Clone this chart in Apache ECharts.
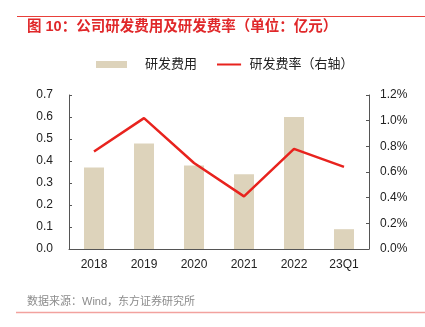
<!DOCTYPE html>
<html><head><meta charset="utf-8">
<script src="https://cdn.jsdelivr.net/npm/echarts@6/dist/echarts.min.js"></script>
<style>html,body{margin:0;padding:0;background:#fff}#c{width:425px;height:327px}</style>
</head><body><div id="c"></div>
<script>
const categories = ['2018','2019','2020','2021','2022','23Q1'];
const rdExpense = [0.37, 0.48, 0.38, 0.34, 0.60, 0.09];
const rdRate = [0.76, 1.02, 0.67, 0.41, 0.78, 0.64];
const leftTicks = [0, 0.1, 0.2, 0.3, 0.4, 0.5, 0.6, 0.7];
const rightTicks = [0, 0.2, 0.4, 0.6, 0.8, 1.0, 1.2];

const chart = echarts.init(document.getElementById('c'));
const FONT = '"Liberation Sans", "Noto Sans CJK SC", sans-serif';
chart.setOption({
  animation: false,
  textStyle: {fontFamily: FONT},
  graphic: [
    {type:'line', shape:{x1:17,y1:16.5,x2:425,y2:16.5}, style:{stroke:'#e8403a', lineWidth:1}},
    {type:'text', left:27, top:20, style:{text:'图 10：公司研发费用及研发费率（单位：亿元）', fill:'#e0282a', font:'bold 14.5px ' + FONT}},
    {type:'text', left:27, top:296, style:{text:'数据来源：Wind，东方证券研究所', fill:'#8c8c8c', font:'11px ' + FONT}},
    {type:'line', shape:{x1:16,y1:312.5,x2:425,y2:312.5}, style:{stroke:'#f2a29e', lineWidth:1.5}}
  ],
  legend: {
    top: 58, left: 96, padding: 0, itemGap: 20, itemWidth: 31, itemHeight: 7,
    textStyle: {fontSize: 13, color:'#222', fontFamily: FONT},
    data: [
      {name:'研发费用', icon:'rect', textStyle:{padding:[0,0,0,13]}},
      {name:'研发费率（右轴）', icon:'path://M0,0H0.01V0.01H0Z M0,3.2H31V5.8H0Z M30.99,9H31V9.01H30.99Z',
       itemStyle:{color:'#e8231e'}}
    ]
  },
  grid: {left: 69, right: 56, top: 95, bottom: 78},
  xAxis: {
    type: 'category', data: categories,
    axisLine: {lineStyle:{color:'#555'}},
    axisTick: {inside:true, length:3, lineStyle:{color:'#555'}},
    axisLabel: {color:'#222', fontSize:12, margin:10}
  },
  yAxis: [
    {type:'value', min:0, max:0.7, interval:0.1,
     axisLine:{show:true, lineStyle:{color:'#555'}},
     axisTick:{show:true, inside:true, length:3, lineStyle:{color:'#555'}},
     splitLine:{show:false},
     axisLabel:{color:'#222', fontSize:12, margin:16, formatter: v => v.toFixed(1)}},
    {type:'value', min:0, max:1.2, interval:0.2, position:'right',
     axisLine:{show:true, lineStyle:{color:'#555'}},
     axisTick:{show:true, inside:true, length:3, lineStyle:{color:'#555'}},
     splitLine:{show:false},
     axisLabel:{color:'#222', fontSize:12, margin:11, formatter: v => v.toFixed(1) + '%'}}
  ],
  series: [
    {name:'研发费用', type:'bar', data: rdExpense, barWidth: 20,
     itemStyle:{color:'#ddd3bb'}},
    {name:'研发费率（右轴）', type:'line', yAxisIndex:1, data: rdRate,
     symbol:'none', lineStyle:{color:'#e8231e', width:2.5}, itemStyle:{color:'#e8231e'}}
  ]
});
</script></body></html>
